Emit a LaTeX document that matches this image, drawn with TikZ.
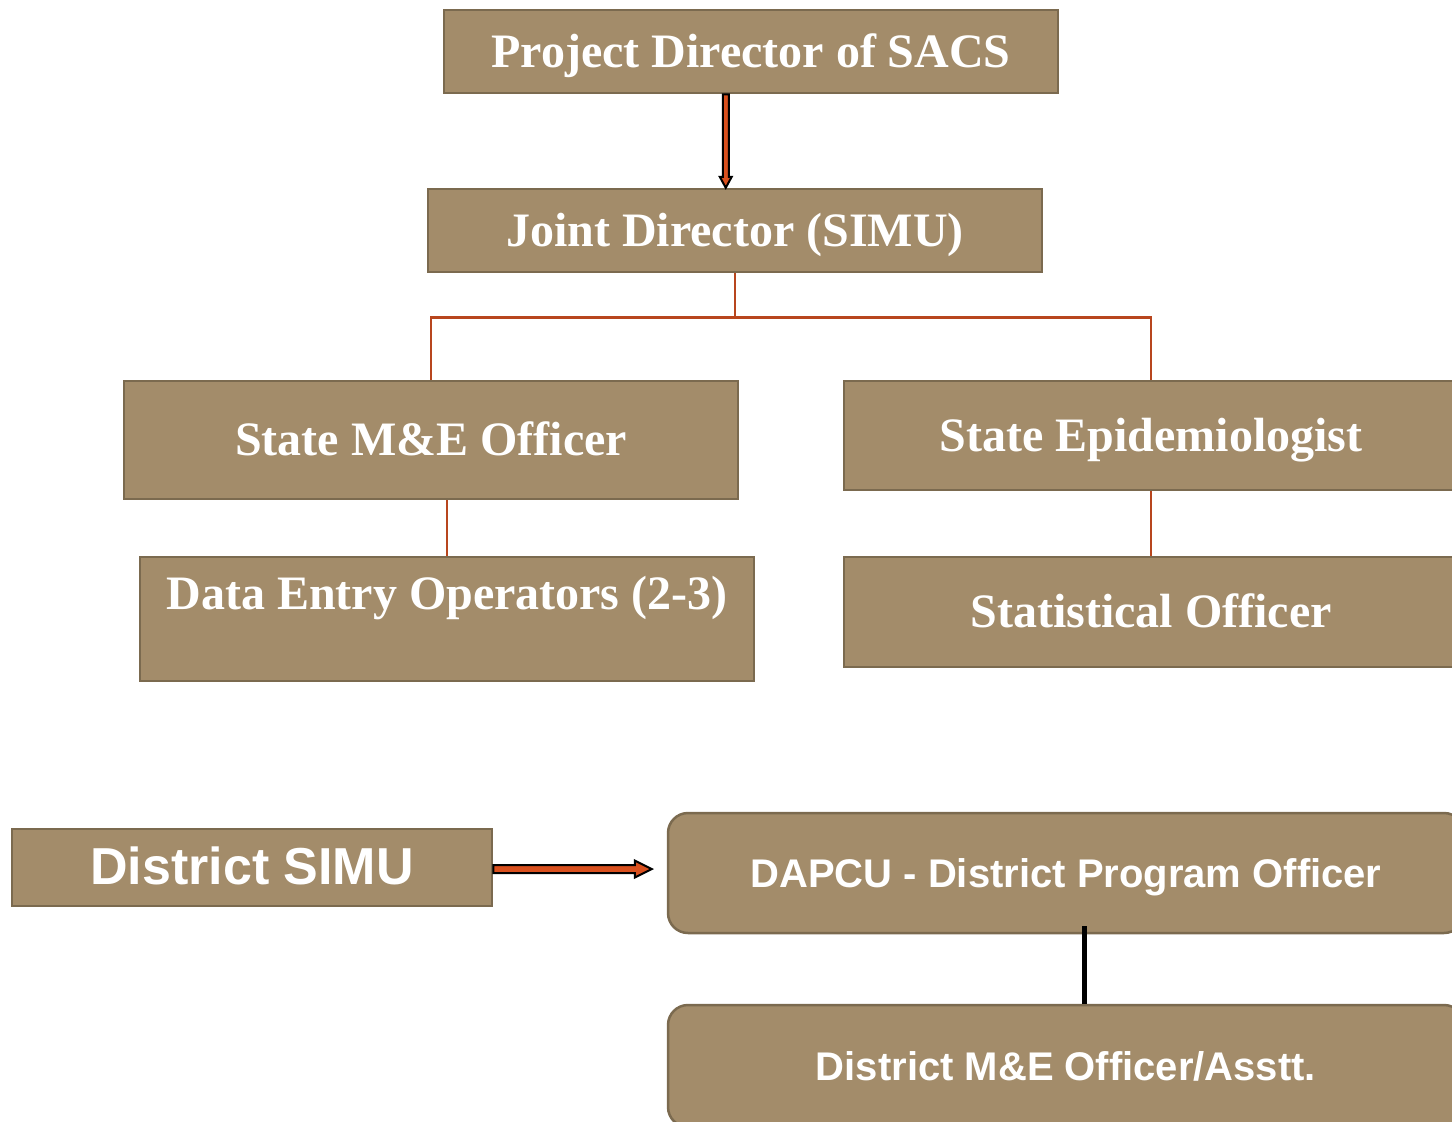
\documentclass[tikz,border=0pt]{standalone}
\usepackage{fontspec}
\usepackage{xcolor}
\usepackage{tikz}
\usetikzlibrary{calc,positioning}
\newfontfamily\boxserif{Liberation Serif}
\newfontfamily\boxsans{Liberation Sans}
\definecolor{boxfill}{HTML}{A38C6A}
\definecolor{boxedge}{HTML}{7B6A4F}
\definecolor{treeline}{HTML}{B8461E}
\definecolor{arrowfill}{HTML}{D9501E}
\tikzset{
  box/.style={draw=boxedge, fill=boxfill, line width=2.5pt, text=white, inner sep=0pt,
    minimum width=614pt, text height=32pt, text depth=1pt,
    font=\boxserif\bfseries\fontsize{48}{52}\selectfont},
  roundbox/.style={box, rounded corners=20pt, text height=29pt, text depth=0pt,
    font=\boxsans\bfseries\fontsize{40}{44}\selectfont},
  tree/.style={draw=treeline, line width=2.5pt},
  blockarrow/.style={draw=black, fill=arrowfill, line width=2pt, line join=miter}
}
\begin{document}
\begin{tikzpicture}[x=1pt,y=-1pt]
\useasboundingbox (0,0) rectangle (1452,1122);
% state level
\node[box, minimum height=83pt] (pd) at (751,51.5) {Project Director of SACS};
\node[box, minimum height=83pt] (jd) at (735,230.5) {Joint Director (SIMU)};
\node[box, minimum height=118pt] (sme) at (431,440) {State M\&E Officer};
\node[box, minimum height=109pt] (sepi) at (1151,435.5) {State Epidemiologist};
\node[box, minimum height=124pt, text depth=52pt] (deo) at (447,619) {Data Entry Operators (2-3)};
\node[box, minimum height=110pt] (stat) at (1151,612) {Statistical Officer};
% district level
\node[box, minimum width=480pt, minimum height=77pt, text height=37pt, text depth=3pt,
  font=\boxsans\bfseries\fontsize{52}{56}\selectfont] (simu) at (252,867.5) {District SIMU};
\node[roundbox, minimum width=796pt, minimum height=120pt] (dapcu) at (1066,873) {DAPCU - District Program Officer};
\node[roundbox, minimum width=796pt, minimum height=122pt] (dme) at (1066,1066) {District M\&E Officer/Asstt.};
% connectors
\coordinate (pdout) at ($(pd.south west)+(283,0)$);
\coordinate (jdin) at (pdout |- jd.north);
\draw[blockarrow] ($(pdout)+(-3,0)$) -- ($(jdin)+(-3,-11)$) -- ($(jdin)+(-6,-11)$) -- (jdin)
  -- ($(jdin)+(6,-11)$) -- ($(jdin)+(3,-11)$) -- ($(pdout)+(3,0)$) -- cycle;
\draw[tree] (jd.south) -- ++(0,44) -| (sme.north);
\draw[tree] (jd.south) -- ++(0,44) -| (sepi.north);
\draw[tree] (deo.north) -- (deo.north |- sme.south);
\draw[tree] (sepi.south) -- (stat.north);
\coordinate (simuout) at ($(simu.east)+(0,1.5)$);
\coordinate (dapcuin) at ($(dapcu.west |- simuout)+(-15,0)$);
\draw[blockarrow] ($(simuout)+(0,-4)$) -- ($(dapcuin)+(-17,-4)$) -- ($(dapcuin)+(-17,-8.5)$) -- (dapcuin)
  -- ($(dapcuin)+(-17,8.5)$) -- ($(dapcuin)+(-17,4)$) -- ($(simuout)+(0,4)$) -- cycle;
\draw[line width=5pt] ($(dapcu.south)+(18,-8)$) -- ($(dme.north)+(18,0)$);
\end{tikzpicture}
\end{document}
